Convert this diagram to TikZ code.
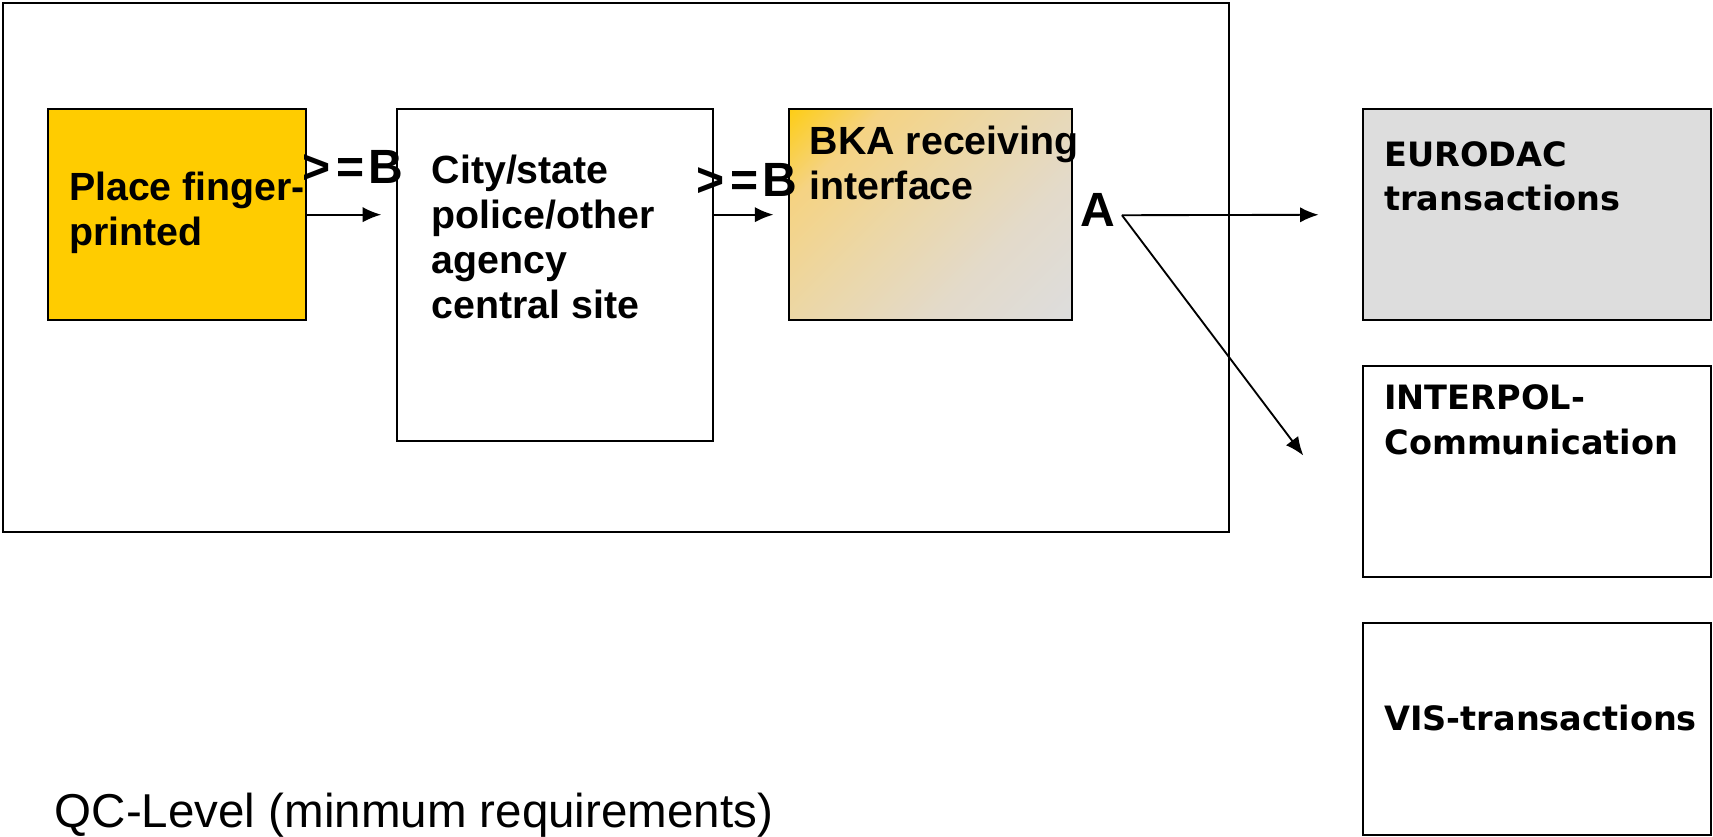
\documentclass[tikz,border=0pt]{standalone}
\usepackage{fontspec}
\setmainfont{Liberation Sans}
\newfontfamily\dvfont{DejaVu Sans}
\usetikzlibrary{arrows.meta}
\definecolor{fpyellow}{HTML}{FFCC00}
\definecolor{boxgray}{HTML}{DDDDDD}
\definecolor{bkaa}{HTML}{E3DACA}
\definecolor{bkab}{HTML}{ECD7A6}
\definecolor{bkac}{HTML}{F5D383}
\pgfdeclareverticalshading{bkashade}{100bp}{color(0bp)=(boxgray); color(15bp)=(boxgray); color(35bp)=(bkaa); color(55bp)=(bkab); color(72bp)=(bkac); color(88bp)=(fpyellow); color(100bp)=(fpyellow)}
\begin{document}
\begin{tikzpicture}[x=1pt,y=-1pt,
  box/.style={draw=black,line width=1.8pt,inner sep=0pt,outer sep=0pt,anchor=north west},
  lefttxt/.style={anchor=north west,inner sep=0pt,align=left,font=\fontsize{36}{41}\selectfont\bfseries},
  righttxt/.style={anchor=north west,inner sep=0pt,align=left,font=\dvfont\fontsize{30.7}{41}\selectfont\bfseries},
  grade/.style={font=\fontsize{44}{50}\selectfont\bfseries,inner sep=0pt},
  conn/.style={line width=1.7pt,-{Latex[length=17pt,width=14pt]}}]
\useasboundingbox (0,0) rectangle (1568,766);
% frame
\node[box,minimum width=1122pt,minimum height=484pt] (frame) at (3,3) {};
% boxes
\node[box,fill=fpyellow,minimum width=236pt,minimum height=193pt] (place) at (44,100) {};
\node[box,fill=white,minimum width=290pt,minimum height=304pt] (city) at (363,100) {};
\node[box,shade,shading=bkashade,shading angle=45,minimum width=259pt,minimum height=193pt] (bka) at (722,100) {};
\node[box,fill=boxgray,minimum width=318pt,minimum height=193pt] (eurodac) at (1248,100) {};
\node[box,fill=white,minimum width=318pt,minimum height=193pt] (interpol) at (1248,335) {};
\node[box,fill=white,minimum width=318pt,minimum height=194pt] (vis) at (1248,570) {};
% texts
\node[lefttxt] (placetxt) at (63,157) {Place finger-\\printed};
\node[lefttxt] (citytxt) at (395,142) {City/state\\police/other\\agency\\central site};
\node[lefttxt] (bkatxt) at (741,115) {BKA receiving\\interface};
\node[righttxt] (eurotxt) at (1267,129) {EURODAC\\transactions};
\node[righttxt] (interptxt) at (1267,352) {INTERPOL-\\Communication};
\node[righttxt,anchor=west] (vistxt) at (1267,657) {VIS-transactions};
\node[anchor=base west,inner sep=0pt,font=\fontsize{43.5}{48}\selectfont] (qc) at (50,757) {QC-Level (minmum requirements)};
% grade labels
\node[grade] (gb1) at (323,153) {>\kern5pt=\kern4ptB};
\node[grade] (gb2) at (684,165) {>\kern5pt=\kern4ptB};
\node[grade] (ga) at (1005,192) {A};
% connectors
\coordinate (afork) at (1027,197);
\coordinate (ipend) at (1193,417);
\draw[conn,shorten >=14pt] (place.east) -- (city.west |- place.east);
\draw[conn,shorten >=14pt] (city.east |- bka.west) -- (bka.west);
\draw[conn,shorten >=41pt] (afork) -- (eurodac.west);
\draw[conn] (afork) -- (ipend);
\end{tikzpicture}
\end{document}
